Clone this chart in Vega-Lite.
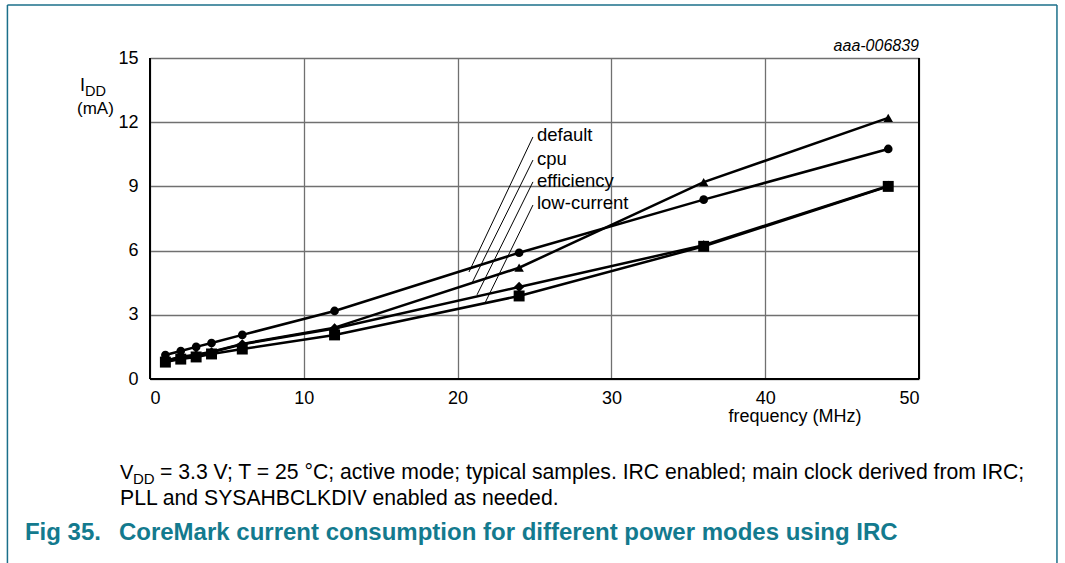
{
  "$schema": "https://vega.github.io/schema/vega-lite/v6.json",
  "width": 769,
  "height": 321,
  "autosize": {"type": "none"},
  "padding": {"left": 150, "top": 58, "right": 146, "bottom": 184},
  "background": "white",
  "config": {
    "view": {"stroke": null},
    "font": "Liberation Sans",
    "text": {"font": "Liberation Sans", "color": "black"}
  },
  "datasets": {
    "series": [
      {"mode": "default", "f": 1, "idd": 1.12},
      {"mode": "default", "f": 2, "idd": 1.31},
      {"mode": "default", "f": 3, "idd": 1.5},
      {"mode": "default", "f": 4, "idd": 1.68},
      {"mode": "default", "f": 6, "idd": 2.06},
      {"mode": "default", "f": 12, "idd": 3.18},
      {"mode": "default", "f": 24, "idd": 5.9},
      {"mode": "default", "f": 36, "idd": 8.38},
      {"mode": "default", "f": 48, "idd": 10.75},
      {"mode": "cpu", "f": 1, "idd": 0.86},
      {"mode": "cpu", "f": 2, "idd": 1.04},
      {"mode": "cpu", "f": 3, "idd": 1.13},
      {"mode": "cpu", "f": 4, "idd": 1.27},
      {"mode": "cpu", "f": 6, "idd": 1.64},
      {"mode": "cpu", "f": 12, "idd": 2.4},
      {"mode": "cpu", "f": 24, "idd": 5.2},
      {"mode": "cpu", "f": 36, "idd": 9.2},
      {"mode": "cpu", "f": 48, "idd": 12.2},
      {"mode": "efficiency", "f": 1, "idd": 0.84},
      {"mode": "efficiency", "f": 2, "idd": 1.02},
      {"mode": "efficiency", "f": 3, "idd": 1.11},
      {"mode": "efficiency", "f": 4, "idd": 1.25},
      {"mode": "efficiency", "f": 6, "idd": 1.62},
      {"mode": "efficiency", "f": 12, "idd": 2.36},
      {"mode": "efficiency", "f": 24, "idd": 4.3},
      {"mode": "efficiency", "f": 36, "idd": 6.25},
      {"mode": "efficiency", "f": 48, "idd": 9.02},
      {"mode": "low-current", "f": 1, "idd": 0.79},
      {"mode": "low-current", "f": 2, "idd": 0.93},
      {"mode": "low-current", "f": 3, "idd": 1.03},
      {"mode": "low-current", "f": 4, "idd": 1.17},
      {"mode": "low-current", "f": 6, "idd": 1.4},
      {"mode": "low-current", "f": 12, "idd": 2.06},
      {"mode": "low-current", "f": 24, "idd": 3.88},
      {"mode": "low-current", "f": 36, "idd": 6.2},
      {"mode": "low-current", "f": 48, "idd": 9.0}
    ]
  },
  "layer": [
    {
      "data": {"name": "series"},
      "mark": {"type": "rule", "color": "black", "strokeWidth": 1.3},
      "encoding": {
        "x": {"datum": 50, "type": "quantitative", "scale": {"domain": [0, 50], "nice": false}},
        "y": {"datum": 0, "type": "quantitative"},
        "y2": {"datum": 15}
      }
    },
    {
      "data": {"name": "series"},
      "mark": {"type": "line", "color": "black", "strokeWidth": 2.5},
      "encoding": {
        "x": {
          "field": "f", "type": "quantitative",
          "scale": {"domain": [0, 50], "nice": false},
          "axis": {
            "title": null, "values": [0, 10, 20, 30, 40, 50], "grid": true,
            "gridColor": "#707070", "gridWidth": 1.3, "gridOpacity": 1,
            "domain": false, "ticks": false, "labelFontSize": 18,
            "labelColor": "black", "labelPadding": 10, "labelFont": "Liberation Sans"
          }
        },
        "y": {
          "field": "idd", "type": "quantitative",
          "scale": {"domain": [0, 15], "nice": false},
          "axis": {
            "title": null,
            "values": [0, 1.5, 3, 4.5, 6, 7.5, 9, 10.5, 12, 13.5, 15],
            "labelExpr": "datum.value % 3 == 0 ? datum.label : ''",
            "grid": true, "gridColor": "#707070", "gridWidth": 1.3, "gridOpacity": 1,
            "domain": false, "ticks": false, "labelFontSize": 18,
            "labelColor": "black", "labelPadding": 12, "labelFont": "Liberation Sans"
          }
        },
        "detail": {"field": "mode"}
      }
    },
    {
      "data": {"name": "series"},
      "mark": {"type": "point", "filled": true, "color": "black", "opacity": 1},
      "encoding": {
        "x": {"field": "f", "type": "quantitative"},
        "y": {"field": "idd", "type": "quantitative"},
        "shape": {
          "field": "mode", "type": "nominal", "legend": null,
          "scale": {"domain": ["default", "cpu", "efficiency", "low-current"], "range": ["circle", "triangle-up", "diamond", "square"]}
        },
        "size": {
          "field": "mode", "type": "nominal", "legend": null,
          "scale": {"domain": ["default", "cpu", "efficiency", "low-current"], "range": [75, 120, 120, 85]}
        }
      }
    },
    {
      "data": {"name": "series"},
      "mark": {"type": "rule", "color": "black", "strokeWidth": 1.5},
      "encoding": {"x": {"datum": 0, "type": "quantitative"}, "y": {"datum": 0, "type": "quantitative"}, "y2": {"datum": 15}}
    },
    {
      "data": {"name": "series"},
      "mark": {"type": "rule", "color": "black", "strokeWidth": 1.5},
      "encoding": {"y": {"datum": 0, "type": "quantitative"}, "x": {"datum": 0, "type": "quantitative"}, "x2": {"datum": 50}}
    },
    {
      "data": {"values": [{}]},
      "mark": {"type": "rule", "color": "black", "strokeWidth": 1},
      "encoding": {"x": {"datum": 20.74, "type": "quantitative"}, "y": {"datum": 5.0, "type": "quantitative"}, "x2": {"datum": 24.9}, "y2": {"datum": 11.31}}
    },
    {
      "data": {"values": [{}]},
      "mark": {"type": "rule", "color": "black", "strokeWidth": 1},
      "encoding": {"x": {"datum": 20.94, "type": "quantitative"}, "y": {"datum": 4.49, "type": "quantitative"}, "x2": {"datum": 24.9}, "y2": {"datum": 10.23}}
    },
    {
      "data": {"values": [{}]},
      "mark": {"type": "rule", "color": "black", "strokeWidth": 1},
      "encoding": {"x": {"datum": 21.26, "type": "quantitative"}, "y": {"datum": 3.93, "type": "quantitative"}, "x2": {"datum": 24.9}, "y2": {"datum": 9.21}}
    },
    {
      "data": {"values": [{}]},
      "mark": {"type": "rule", "color": "black", "strokeWidth": 1},
      "encoding": {"x": {"datum": 21.78, "type": "quantitative"}, "y": {"datum": 3.55, "type": "quantitative"}, "x2": {"datum": 24.9}, "y2": {"datum": 8.13}}
    },
    {
      "data": {"values": [{}]},
      "mark": {"type": "text", "align": "left", "baseline": "middle", "fontSize": 18.5},
      "encoding": {"x": {"datum": 25.16, "type": "quantitative"}, "y": {"datum": 11.4, "type": "quantitative"}, "text": {"value": "default"}}
    },
    {
      "data": {"values": [{}]},
      "mark": {"type": "text", "align": "left", "baseline": "middle", "fontSize": 18.5},
      "encoding": {"x": {"datum": 25.16, "type": "quantitative"}, "y": {"datum": 10.28, "type": "quantitative"}, "text": {"value": "cpu"}}
    },
    {
      "data": {"values": [{}]},
      "mark": {"type": "text", "align": "left", "baseline": "middle", "fontSize": 18.5},
      "encoding": {"x": {"datum": 25.16, "type": "quantitative"}, "y": {"datum": 9.25, "type": "quantitative"}, "text": {"value": "efficiency"}}
    },
    {
      "data": {"values": [{}]},
      "mark": {"type": "text", "align": "left", "baseline": "middle", "fontSize": 18.5},
      "encoding": {"x": {"datum": 25.16, "type": "quantitative"}, "y": {"datum": 8.22, "type": "quantitative"}, "text": {"value": "low-current"}}
    },
    {
      "data": {"values": [{}]},
      "mark": {"type": "text", "align": "right", "baseline": "alphabetic", "fontSize": 16, "fontStyle": "italic"},
      "encoding": {"x": {"datum": 50, "type": "quantitative"}, "y": {"datum": 15.33, "type": "quantitative"}, "text": {"value": "aaa-006839"}}
    },
    {
      "data": {"values": [{}]},
      "mark": {"type": "text", "align": "left", "baseline": "alphabetic", "fontSize": 18},
      "encoding": {"x": {"datum": -4.55, "type": "quantitative"}, "y": {"datum": 13.45, "type": "quantitative"}, "text": {"value": "I"}}
    },
    {
      "data": {"values": [{}]},
      "mark": {"type": "text", "align": "left", "baseline": "alphabetic", "fontSize": 14.5},
      "encoding": {"x": {"datum": -4.23, "type": "quantitative"}, "y": {"datum": 13.23, "type": "quantitative"}, "text": {"value": "DD"}}
    },
    {
      "data": {"values": [{}]},
      "mark": {"type": "text", "align": "center", "baseline": "alphabetic", "fontSize": 17},
      "encoding": {"x": {"datum": -3.55, "type": "quantitative"}, "y": {"datum": 12.38, "type": "quantitative"}, "text": {"value": "(mA)"}}
    },
    {
      "data": {"values": [{}]},
      "mark": {"type": "text", "align": "center", "baseline": "alphabetic", "fontSize": 18},
      "encoding": {"x": {"datum": 41.94, "type": "quantitative"}, "y": {"datum": -1.99, "type": "quantitative"}, "text": {"value": "frequency (MHz)"}}
    },
    {
      "data": {"values": [{}]},
      "mark": {"type": "text", "align": "left", "baseline": "alphabetic", "fontSize": 20},
      "encoding": {"x": {"datum": -1.95, "type": "quantitative"}, "y": {"datum": -4.67, "type": "quantitative"}, "text": {"value": "V"}}
    },
    {
      "data": {"values": [{}]},
      "mark": {"type": "text", "align": "left", "baseline": "alphabetic", "fontSize": 15},
      "encoding": {"x": {"datum": -1.105, "type": "quantitative"}, "y": {"datum": -4.91, "type": "quantitative"}, "text": {"value": "DD"}}
    },
    {
      "data": {"values": [{}]},
      "mark": {"type": "text", "align": "left", "baseline": "alphabetic", "fontSize": 21.2},
      "encoding": {"x": {"datum": 0.65, "type": "quantitative"}, "y": {"datum": -4.67, "type": "quantitative"}, "text": {"value": "= 3.3 V; T = 25 °C; active mode; typical samples. IRC enabled; main clock derived from IRC;"}}
    },
    {
      "data": {"values": [{}]},
      "mark": {"type": "text", "align": "left", "baseline": "alphabetic", "fontSize": 21.2},
      "encoding": {"x": {"datum": -1.95, "type": "quantitative"}, "y": {"datum": -5.89, "type": "quantitative"}, "text": {"value": "PLL and SYSAHBCLKDIV enabled as needed."}}
    },
    {
      "data": {"values": [{}]},
      "mark": {"type": "text", "align": "left", "baseline": "alphabetic", "fontSize": 24, "fontWeight": "bold", "color": "#137a8e"},
      "encoding": {"x": {"datum": -8.13, "type": "quantitative"}, "y": {"datum": -7.52, "type": "quantitative"}, "text": {"value": "Fig 35."}}
    },
    {
      "data": {"values": [{}]},
      "mark": {"type": "text", "align": "left", "baseline": "alphabetic", "fontSize": 24, "fontWeight": "bold", "color": "#137a8e"},
      "encoding": {"x": {"datum": -2.02, "type": "quantitative"}, "y": {"datum": -7.52, "type": "quantitative"}, "text": {"value": "CoreMark current consumption for different power modes using IRC"}}
    },
    {
      "data": {"values": [{}]},
      "mark": {"type": "rule", "color": "#1b6f8a", "strokeWidth": 1.5},
      "encoding": {"x": {"datum": -9.27, "type": "quantitative"}, "y": {"datum": 17.48, "type": "quantitative"}, "x2": {"datum": 58.97}}
    },
    {
      "data": {"values": [{}]},
      "mark": {"type": "rule", "color": "#1b6f8a", "strokeWidth": 1.5},
      "encoding": {"x": {"datum": -9.27, "type": "quantitative"}, "y": {"datum": 17.48, "type": "quantitative"}, "y2": {"datum": -9.0}}
    },
    {
      "data": {"values": [{}]},
      "mark": {"type": "rule", "color": "#1b6f8a", "strokeWidth": 1.5},
      "encoding": {"x": {"datum": 58.97, "type": "quantitative"}, "y": {"datum": 17.48, "type": "quantitative"}, "y2": {"datum": -9.0}}
    }
  ]
}
